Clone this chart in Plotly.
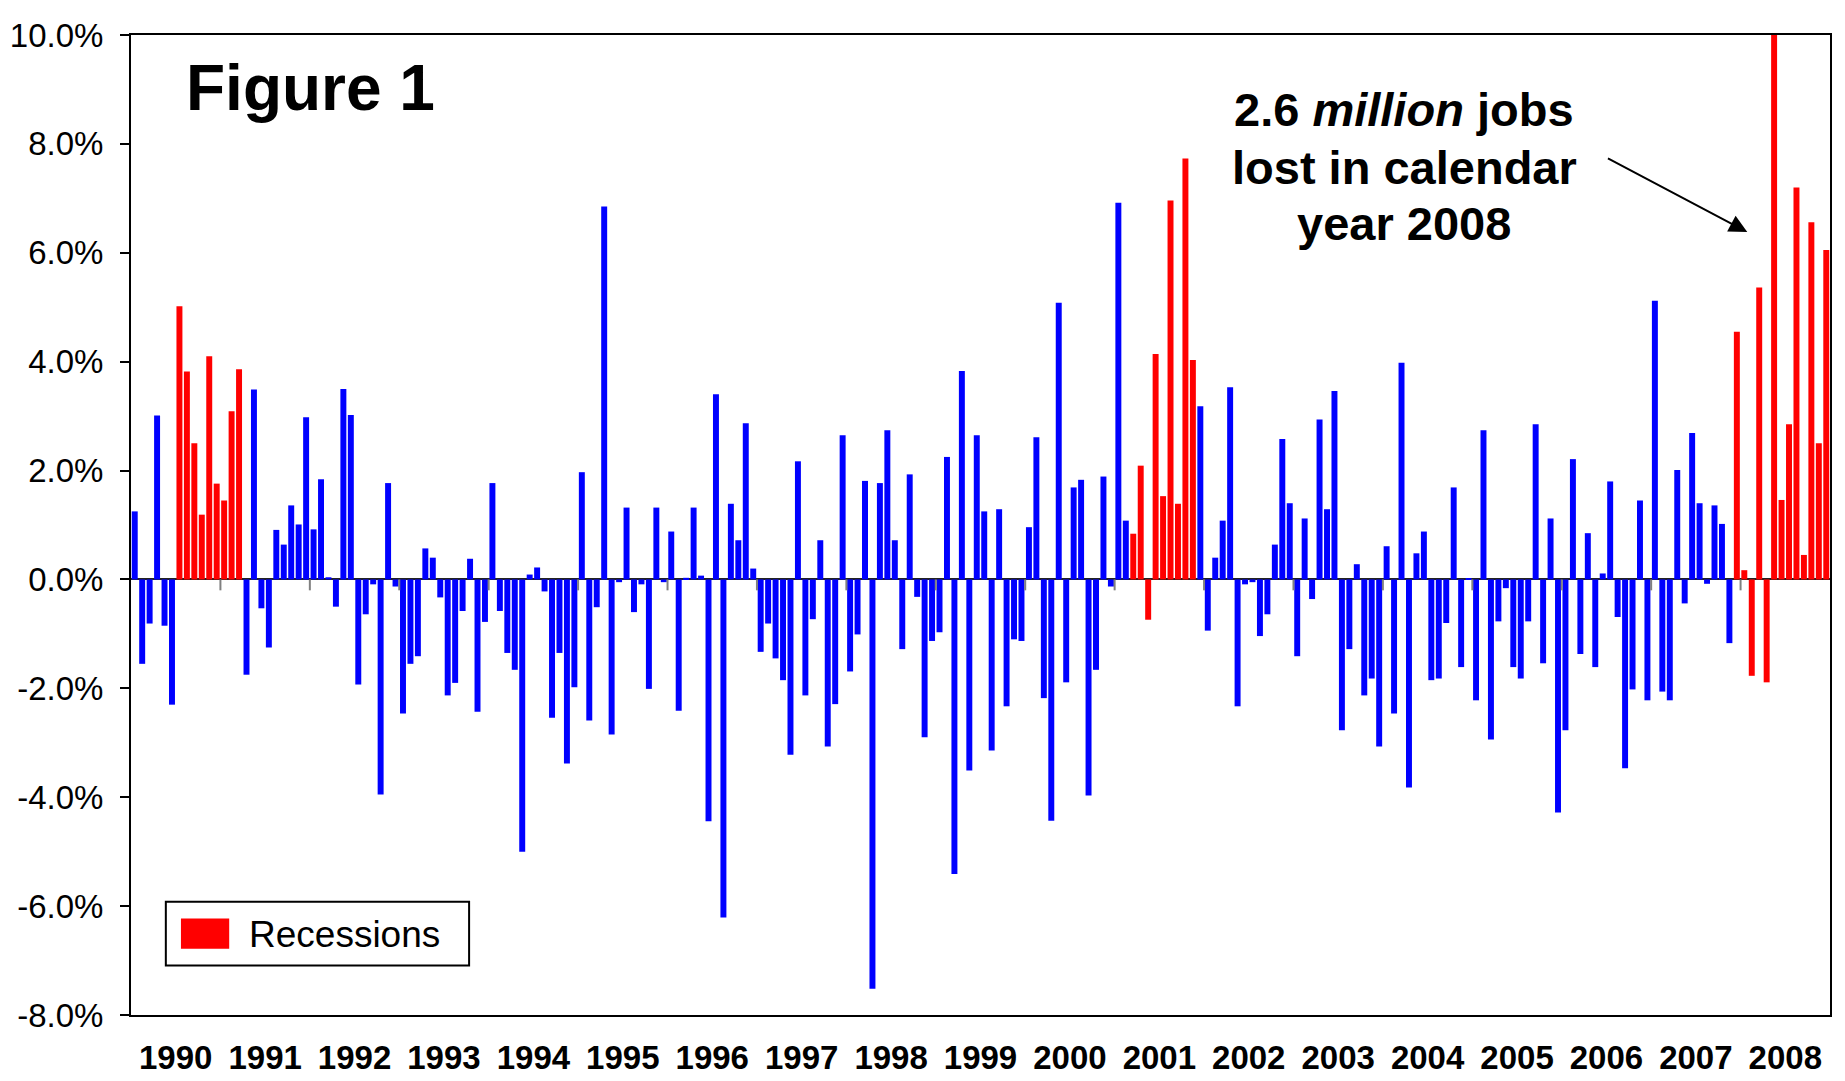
"""Figure 1: monthly job change, 1990-2008, recessions highlighted."""

import plotly.graph_objects as go

YEARS = list(range(1990, 2009))
Y_TICKS = [-8, -6, -4, -2, 0, 2, 4, 6, 8, 10]

# monthly change (%), January..December
jobs_1990 = [1.25, -1.55, -0.81, 3.01, -0.85, -2.30, 5.02, 3.82, 2.50, 1.19, 4.10, 1.76]
jobs_1991 = [1.45, 3.09, 3.86, -1.75, 3.49, -0.53, -1.25, 0.91, 0.64, 1.36, 1.01, 2.98]
jobs_1992 = [0.92, 1.84, 0.04, -0.50, 3.50, 3.02, -1.93, -0.64, -0.09, -3.95, 1.77, -0.13]
jobs_1993 = [-2.46, -1.55, -1.41, 0.57, 0.40, -0.33, -2.13, -1.90, -0.58, 0.38, -2.43, -0.78]
jobs_1994 = [1.77, -0.58, -1.35, -1.66, -5.00, 0.09, 0.22, -0.22, -2.54, -1.35, -3.38, -1.98]
jobs_1995 = [1.97, -2.59, -0.51, 6.85, -2.85, -0.05, 1.32, -0.60, -0.09, -2.01, 1.32, -0.05]
jobs_1996 = [0.88, -2.41, 0.03, 1.32, 0.07, -4.44, 3.40, -6.21, 1.39, 0.72, 2.87, 0.20]
jobs_1997 = [-1.33, -0.81, -1.45, -1.85, -3.22, 2.17, -2.13, -0.73, 0.72, -3.07, -2.29, 2.65]
jobs_1998 = [-1.69, -1.01, 1.81, -7.52, 1.77, 2.74, 0.72, -1.28, 1.93, -0.32, -2.90, -1.13]
jobs_1999 = [-0.97, 2.25, -5.41, 3.83, -3.51, 2.65, 1.25, -3.14, 1.29, -2.33, -1.10, -1.13]
jobs_2000 = [0.96, 2.61, -2.18, -4.43, 5.08, -1.89, 1.69, 1.83, -3.97, -1.66, 1.89, -0.13]
jobs_2001 = [6.92, 1.08, 0.84, 2.09, -0.74, 4.14, 1.53, 6.96, 1.39, 7.73, 4.03, 3.18]
jobs_2002 = [-0.94, 0.40, 1.08, 3.53, -2.33, -0.09, -0.05, -1.04, -0.64, 0.64, 2.58, 1.40]
jobs_2003 = [-1.41, 1.12, -0.36, 2.94, 1.29, 3.46, -2.77, -1.28, 0.28, -2.13, -1.82, -3.07]
jobs_2004 = [0.61, -2.46, 3.98, -3.82, 0.48, 0.88, -1.85, -1.82, -0.80, 1.69, -1.61, 0.02]
jobs_2005 = [-2.22, 2.74, -2.94, -0.77, -0.16, -1.61, -1.82, -0.77, 2.85, -1.54, 1.12, -4.28]
jobs_2006 = [-2.77, 2.21, -1.37, 0.85, -1.61, 0.11, 1.80, -0.69, -3.47, -2.02, 1.45, -2.22]
jobs_2007 = [5.12, -2.06, -2.22, 2.01, -0.44, 2.69, 1.40, -0.08, 1.36, 1.02, -1.17, 4.55]
jobs_2008 = [0.17, -1.77, 5.36, -1.89, 10.11, 1.46, 2.85, 7.20, 0.45, 6.56, 2.50, 6.05]

# (start, end) as (year, month), inclusive
RECESSIONS = [((1990, 7), (1991, 3)), ((2001, 3), (2001, 11)), ((2007, 12), (2008, 12))]

BLUE = "#0000FF"
RED = "#FF0000"
FONT = "Liberation Sans, Arial, sans-serif"

values = (
    jobs_1990 + jobs_1991 + jobs_1992 + jobs_1993 + jobs_1994 + jobs_1995
    + jobs_1996 + jobs_1997 + jobs_1998 + jobs_1999 + jobs_2000 + jobs_2001
    + jobs_2002 + jobs_2003 + jobs_2004 + jobs_2005 + jobs_2006 + jobs_2007
    + jobs_2008
)
months = [(y, m) for y in YEARS for m in range(1, 13)]
x_idx = list(range(len(values)))


def _in_recession(ym):
    return any(start <= ym <= end for start, end in RECESSIONS)


colors = [RED if _in_recession(ym) else BLUE for ym in months]

fig = go.Figure(
    go.Bar(
        x=x_idx,
        y=values,
        marker=dict(color=colors, line=dict(width=0)),
        width=0.8,
        showlegend=False,
        hoverinfo="skip",
    )
)

# small year-boundary ticks on the zero line
for k in range(1, len(YEARS)):
    fig.add_shape(
        type="line", xref="x", yref="y",
        x0=12 * k - 0.5, x1=12 * k - 0.5, y0=0, y1=-0.2,
        line=dict(color="#808080", width=2),
    )

# legend box drawn by hand
fig.add_shape(type="rect", xref="paper", yref="paper",
              x0=0.0205, x1=0.1990, y0=0.0506, y1=0.1155,
              line=dict(color="black", width=2), fillcolor="white")
fig.add_shape(type="rect", xref="paper", yref="paper",
              x0=0.0294, x1=0.0578, y0=0.0675, y1=0.0985,
              line=dict(width=0), fillcolor=RED)
fig.add_annotation(text="Recessions", xref="paper", yref="paper",
                   x=0.0685, y=0.0822, xanchor="left", yanchor="middle",
                   showarrow=False, font=dict(size=37, color="black"))

fig.add_annotation(text="<b>Figure 1</b>", xref="paper", yref="paper",
                   x=0.031, y=0.9459, xanchor="left", yanchor="middle",
                   showarrow=False, font=dict(size=64, color="black"))

note_lines = ["<b>2.6 <i>million</i> jobs</b>", "<b>lost in calendar</b>", "<b>year 2008</b>"]
for line, ypos in zip(note_lines, [0.9240, 0.8651, 0.8075]):
    fig.add_annotation(
        text=line, xref="paper", yref="paper", x=0.7495, y=ypos,
        xanchor="center", yanchor="middle", showarrow=False,
        font=dict(size=47, color="black"),
    )
fig.add_annotation(
    text="", x=216.4, y=6.38, ax=197.5, ay=7.75, xref="x", yref="y",
    axref="x", ayref="y", showarrow=True, arrowhead=2, arrowsize=1.8,
    arrowwidth=2, arrowcolor="black",
)

fig.update_xaxes(
    range=[-0.5, len(values) - 0.5],
    tickvals=[12 * k + 5.5 for k in range(len(YEARS))],
    ticktext=[f"<b>{y}</b>" for y in YEARS],
    ticks="", showgrid=False, zeroline=False, automargin=False,
    showline=True, linecolor="black", linewidth=2, mirror=True,
    tickfont=dict(size=33, color="black"), ticklabelstandoff=12,
)
fig.update_yaxes(
    range=[-8, 10], tickvals=Y_TICKS, ticktext=[f"{v:.1f}%" for v in Y_TICKS],
    ticks="outside", ticklen=9, tickwidth=1.5, tickcolor="black",
    showgrid=False, zeroline=True, zerolinecolor="#222222", zerolinewidth=1.5,
    showline=True, linecolor="black", linewidth=2, mirror=True, automargin=False,
    tickfont=dict(size=33, color="black"), ticklabelstandoff=10,
)
fig.update_layout(
    width=1845, height=1081,
    margin=dict(l=131, r=15, t=35, b=66, autoexpand=False),
    plot_bgcolor="white", paper_bgcolor="white",
    font=dict(family=FONT, color="black"),
    bargap=0.2,
)

# drop the default page margin so the figure fills the window exactly
fig.write_html(
    "out.html",
    config={"displayModeBar": False},
    post_script="document.body.style.margin = '0px';",
)
